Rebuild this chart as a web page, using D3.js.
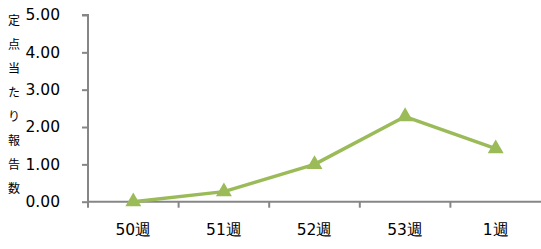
<!DOCTYPE html>
<html><head><meta charset="utf-8">
<script src="https://cdn.jsdelivr.net/npm/d3@7"></script>
<style>body{margin:0;background:#fff}svg{display:block}</style>
</head><body>
<script>
const categories = ["50週","51週","52週","53週","1週"];
const values = [0.00, 0.27, 1.00, 2.28, 1.42];
const yTicks = [0,1,2,3,4,5];
const yTitleChars = ["定","点","当","た","り","報","告","数"];

const W = 541, H = 249;
const svg = d3.select("body").append("svg").attr("width", W).attr("height", H);
const font = "'DejaVu Sans', Verdana, sans-serif";
const axisColor = "#868686";

const x = d3.scaleBand().domain(categories).range([88, 541]);
const y = d3.scaleLinear().domain([0, 5]).range([201.7, 15]);

// y axis
const ya = svg.append("g").attr("transform", "translate(88,0)")
  .call(d3.axisLeft(y).tickValues(yTicks).tickSize(6).tickPadding(22).tickFormat(d3.format(".2f")));
ya.select(".domain").attr("stroke", axisColor).attr("stroke-width", 2).attr("d", `M-6,${y(5)}H0V${y(0)}`);
ya.selectAll(".tick line").attr("stroke", axisColor).attr("stroke-width", 2);
ya.selectAll(".tick text").attr("font-family", font).attr("font-size", 15.5).attr("fill", "#000");

// x axis
const xa = svg.append("g").attr("transform", `translate(0,${y(0)})`)
  .call(d3.axisBottom(x).tickSize(0).tickPadding(22));
xa.select(".domain").attr("stroke", axisColor).attr("stroke-width", 2).attr("d", `M88,0H541`);
xa.selectAll(".tick text").attr("font-family", font).attr("font-size", 15.5).attr("fill", "#000");
// boundary tick marks
const bounds = categories.map(c => x(c));
svg.append("g").selectAll("line").data(bounds).join("line")
  .attr("x1", d => d).attr("x2", d => d)
  .attr("y1", y(0)).attr("y2", y(0) + 6)
  .attr("stroke", axisColor).attr("stroke-width", 2);

// y title
svg.append("g").selectAll("text").data(yTitleChars).join("text")
  .attr("x", 14).attr("y", (d, i) => 19 + i * 24.1)
  .attr("text-anchor", "middle").attr("dominant-baseline", "central")
  .attr("font-family", "'Noto Sans CJK JP', sans-serif").attr("font-size", 12).attr("fill", "#000")
  .text(d => d);

// line
const cx = (d, i) => x(categories[i]) + x.bandwidth() / 2;
const line = d3.line().x(cx).y(d => y(d));
svg.append("path").datum(values).attr("d", line)
  .attr("fill", "none").attr("stroke", "#9BBB59").attr("stroke-width", 3.5).attr("stroke-linejoin", "round");

const tri = d3.symbol().type(d3.symbolTriangle).size(110);
svg.append("g").selectAll("path").data(values).join("path")
  .attr("d", tri)
  .attr("transform", (d, i) => `translate(${cx(d, i)},${y(d)})`)
  .attr("fill", "#9BBB59");
</script>
</body></html>
